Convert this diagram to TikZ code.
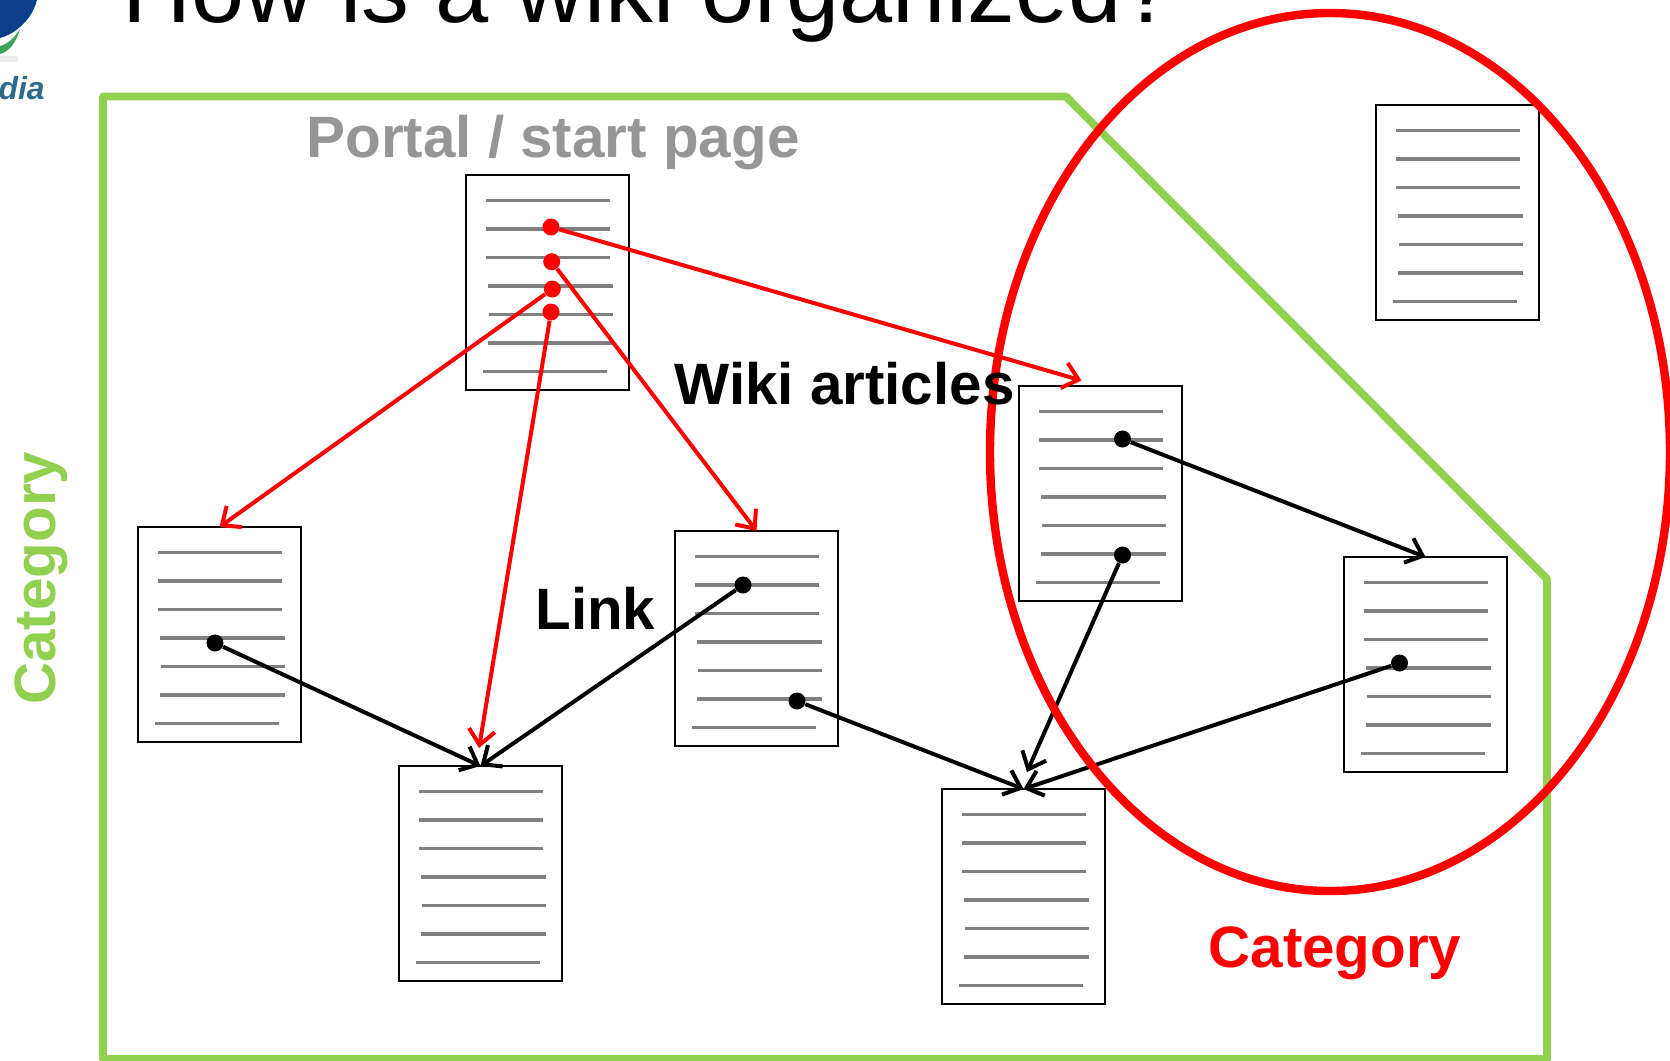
\documentclass[tikz,border=0pt]{standalone}
\usepackage{fontspec}
\setmainfont{Liberation Sans}
\usetikzlibrary{arrows.meta}
\definecolor{catgreen}{HTML}{92D050}
\definecolor{portalgray}{HTML}{969696}
\definecolor{logoblue}{HTML}{0B3F8C}
\definecolor{logotext}{HTML}{2F6A8C}
\definecolor{logogreen}{HTML}{3FA45B}

\begin{document}
\begin{tikzpicture}[x=0.5bp,y=-0.5bp]
\tikzset{
  doc/.style = {rectangle, draw, line width=1.1bp, inner sep=0pt, outer sep=0pt, minimum width=81.5bp, minimum height=107.4bp, anchor=north west},
  textline/.style = {draw=gray, line width=1.7bp},
  dotred/.style = {circle, fill=red, inner sep=0pt, minimum size=8.5bp},
  dotblack/.style = {circle, fill=black, inner sep=0pt, minimum size=8.5bp},
  link/.style = {line width=2bp, -{Straight Barb[length=7.5bp,width=13bp]}},
  biglabel/.style = {font=\fontsize{29.3}{29.3}\selectfont\bfseries, inner sep=0pt, anchor=base west}
}
\useasboundingbox (0,0) rectangle (1670,1060);

% logo corner
\fill[logoblue] (0,0) -- (37,0) .. controls (32,20) and (15,34) .. (0,38) -- cycle;
\fill[logogreen] (0,46) .. controls (8,44) and (14,38) .. (20,29) .. controls (16,44) and (8,52) .. (0,54) -- cycle;
\fill[black!8] (0,56) rectangle (18,62);
\node[font=\fontsize{16}{16}\selectfont\itshape\bfseries, text=logotext, inner sep=0pt, anchor=base east] (logo) at (45,99) {dia};

% title, cut by the page
\node[font=\fontsize{48}{48}\selectfont, inner sep=0pt, anchor=base west] (title) at (122,22) {How is a wiki organized?};

% green category
\draw[catgreen, line width=3.9bp, line join=round] (103,96.5) -- (1066,96.5) -- (1547,579) -- (1547,1059) -- (103,1059) -- cycle;

% pages
\foreach \n/\x/\y in {portal/466/175, lonely/1376/105, hub/1019/386, left/138/527, mid/675/531, bot/399/766, botb/942/789, right/1344/557} {
  \node[doc] (\n) at (\x,\y) {};
  \foreach \ly/\la/\lb in {25.5/20/144, 54/20/144, 82.5/20/144, 111/22/147, 139.5/23/147, 168/22/147, 196.5/17/141}
    \draw[textline] ([shift={(\la,\ly)}]\n.north west) -- ([shift={(\lb,\ly)}]\n.north west);
}

% link starts
\node[dotred] (p1) at (551,227) {};
\node[dotred] (p2) at (551.7,261.7) {};
\node[dotred] (p3) at (552.3,289) {};
\node[dotred] (p4) at (551,312) {};
\node[dotblack] (l1) at (215,643) {};
\node[dotblack] (m1) at (743,585) {};
\node[dotblack] (m2) at (797,701) {};
\node[dotblack] (h1) at (1122.5,439) {};
\node[dotblack] (h2) at (1122.5,555) {};
\node[dotblack] (r1) at (1399.5,663) {};

% free arrow ends
\coordinate (hubtip) at (1081.5,380.5);
\coordinate (bottip) at (479,748);
\coordinate (botbtip) at (1027,772);

\draw[link, red] (p1) -- (hubtip);
\draw[link, red] (p2) -- (mid.north);
\draw[link, red] (p3) -- (left.north);
\draw[link, red] (p4) -- (bottip);
\draw[link] (l1) -- (bot.north);
\draw[link] (m1) -- (bot.north);
\draw[link] (m2) -- (botb.north);
\draw[link] (h1) -- (right.north);
\draw[link] (h2) -- (botbtip);
\draw[link] (r1) -- (botb.north);

% red category
\draw[red, line width=4.2bp] (1330,452) ellipse (340 and 439);

% labels
\node[biglabel, text=portalgray] (portallabel) at (306,157) {Portal / start page};
\node[biglabel] (wikilabel) at (674,404) {Wiki articles};
\node[biglabel] (linklabel) at (535,629) {Link};
\node[biglabel, text=red] (catred) at (1208,967) {Category};
\node[biglabel, text=catgreen, rotate=90] (catgreenlabel) at (55,705) {Category};
\end{tikzpicture}
\end{document}
